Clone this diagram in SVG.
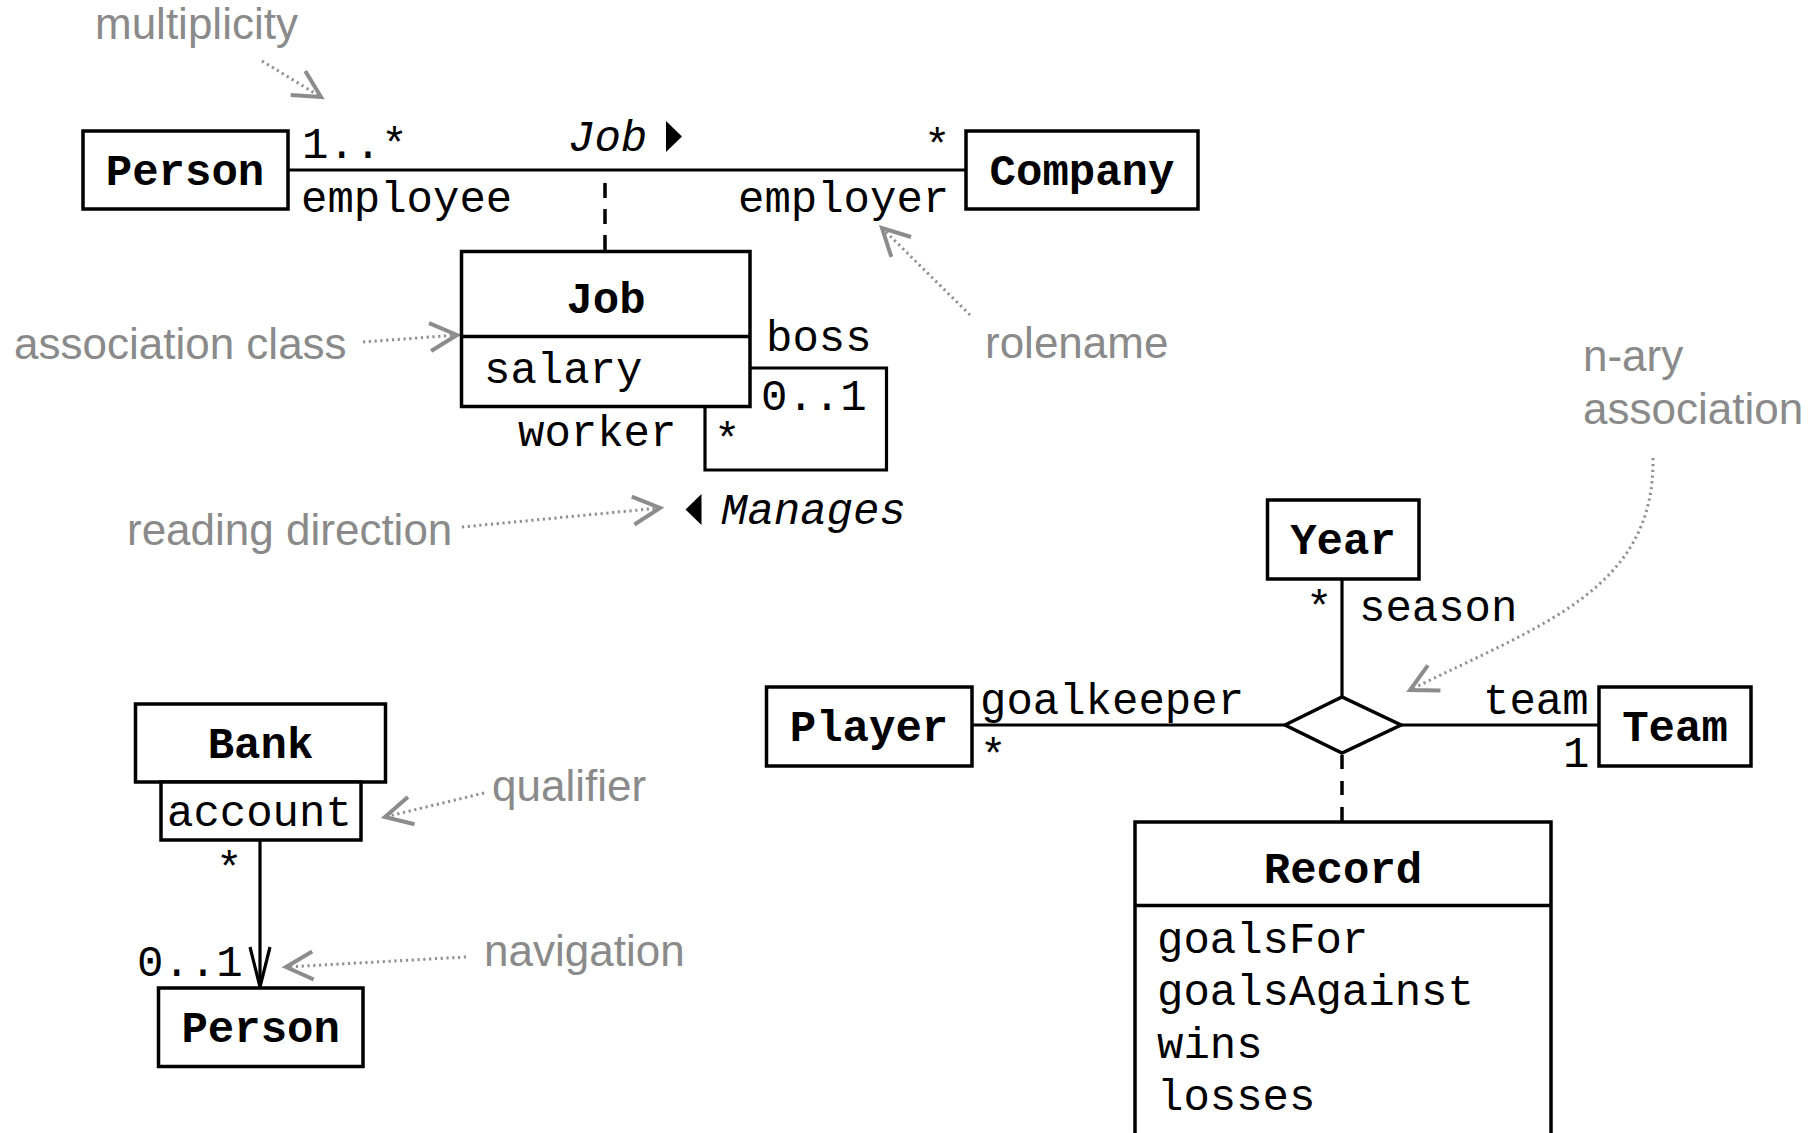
<svg xmlns="http://www.w3.org/2000/svg" width="1814" height="1133" viewBox="0 0 1814 1133">
<style>
.box{fill:#fff;stroke:#000;stroke-width:3.5}
.ln{stroke:#000;stroke-width:3.2;fill:none}
.dash{stroke:#000;stroke-width:3.5;fill:none;stroke-dasharray:15 11}
.mono{font-family:"Liberation Mono","Courier New",monospace;font-size:44px;fill:#000}
.b{font-weight:bold}
.it{font-style:italic}
.mid{text-anchor:middle}
.note{font-family:"Liberation Sans",Arial,sans-serif;font-size:44px;fill:#8a8a8a}
.dot{stroke:#8f8f8f;stroke-width:3;stroke-dasharray:2.2 3.6;fill:none;marker-end:url(#chev)}
</style>
<defs>
<marker id="chev" markerUnits="userSpaceOnUse" markerWidth="44" markerHeight="44" viewBox="-34 -22 44 44" refX="0" refY="0" orient="auto" overflow="visible">
<path d="M-27,-14 L0,0 L-27,14" fill="none" stroke="#8c8c8c" stroke-width="4"/>
</marker>
</defs>
<rect width="1814" height="1133" fill="#fff"/>

<g id="connectors">
<path class="ln" d="M288,170 H966"/>
<path class="dash" d="M605,183 V252"/>
<path class="ln" d="M750,368 H886.5 V470 H705 V406"/>
<path class="ln" d="M260,840 V986"/>
<path class="ln" d="M250,947 L260,987 L270,947" stroke-linejoin="miter"/>
<path class="ln" d="M972,725 H1285"/>
<path class="ln" d="M1401,725 H1599"/>
<path class="ln" d="M1342,579 V697"/>
<path class="dash" d="M1342,755 V822" style="stroke-dasharray:14 12"/>
<polygon points="666,121 666,152 682,136.5" fill="#000"/>
<polygon points="701.5,494 701.5,525 685.5,509.5" fill="#000"/>
<text class="mono" x="302" y="157.5">1..*</text>
<text class="mono" x="301" y="211.5">employee</text>
<text class="mono" x="924" y="159">*</text>
<text class="mono" x="738" y="211.5">employer</text>
<text class="mono it" x="568" y="150.5">Job</text>
<text class="mono" x="766" y="350.5">boss</text>
<text class="mono" x="761" y="409.5">0..1</text>
<text class="mono" x="714" y="453">*</text>
<text class="mono" x="518" y="445.5">worker</text>
<text class="mono it" x="721" y="523.5">Manages</text>
<text class="mono" x="216" y="882">*</text>
<text class="mono" x="137" y="975.5">0..1</text>
<text class="mono" x="980" y="713.5">goalkeeper</text>
<text class="mono" x="980" y="769">*</text>
<text class="mono" x="1483" y="713.5">team</text>
<text class="mono" x="1563" y="766.5">1</text>
<text class="mono" x="1306" y="621">*</text>
<text class="mono" x="1359" y="620.5">season</text>
</g>

<g id="annotations">
<text class="note" x="95" y="39">multiplicity</text>
<path class="dot" d="M262,61 L321,97"/>
<text class="note" x="14" y="359">association class</text>
<path class="dot" d="M363,342 L457,335"/>
<text class="note" x="985" y="358">rolename</text>
<path class="dot" d="M970,315 L882,228"/>
<text class="note" x="127" y="545">reading direction</text>
<path class="dot" d="M462,527 L660,508"/>
<text class="note" x="1583" y="371">n-ary</text>
<text class="note" x="1583" y="424">association</text>
<path class="dot" d="M1653,458 C1655,590 1540,625 1410,690"/>
<text class="note" x="492" y="801">qualifier</text>
<path class="dot" d="M484,793 L385,817"/>
<text class="note" x="484" y="966">navigation</text>
<path class="dot" d="M466,957 L286,967"/>
</g>

<g id="node-person">
<rect class="box" x="83" y="131" width="205" height="78"/>
<text class="mono b mid" x="185" y="185">Person</text>
</g>
<g id="node-company">
<rect class="box" x="966" y="131" width="232" height="78"/>
<text class="mono b mid" x="1082" y="185">Company</text>
</g>
<g id="node-job">
<rect class="box" x="461.5" y="251.5" width="288.5" height="155"/>
<line class="ln" x1="461.5" y1="336.5" x2="750" y2="336.5" style="stroke-width:3.5"/>
<text class="mono b mid" x="606" y="312.5">Job</text>
<text class="mono" x="484" y="382.5">salary</text>
</g>
<g id="node-bank">
<rect class="box" x="135.5" y="704" width="250" height="78"/>
<text class="mono b mid" x="260.5" y="757.5">Bank</text>
<rect class="box" x="161" y="782" width="200" height="58"/>
<text class="mono" x="167" y="825.5">account</text>
</g>
<g id="node-person2">
<rect class="box" x="158.5" y="988" width="204.5" height="78.5"/>
<text class="mono b mid" x="260.7" y="1041.5">Person</text>
</g>
<g id="node-year">
<rect class="box" x="1267.5" y="500" width="151.5" height="79"/>
<text class="mono b mid" x="1343" y="553.5">Year</text>
</g>
<g id="node-player">
<rect class="box" x="766.5" y="687" width="205.5" height="79"/>
<text class="mono b mid" x="869" y="740.5">Player</text>
</g>
<g id="node-team">
<rect class="box" x="1599" y="687" width="152" height="79"/>
<text class="mono b mid" x="1675" y="740.5">Team</text>
</g>
<g id="node-assoc">
<polygon class="box" points="1285,725 1342,697 1401,725 1342,753"/>
</g>
<g id="node-record">
<rect class="box" x="1135" y="822" width="416" height="340"/>
<line class="ln" x1="1135" y1="905.5" x2="1551" y2="905.5" style="stroke-width:3.5"/>
<text class="mono b mid" x="1343" y="882.5">Record</text>
<text class="mono" x="1157" y="952.5">goalsFor</text>
<text class="mono" x="1157" y="1004.5">goalsAgainst</text>
<text class="mono" x="1157" y="1057.5">wins</text>
<text class="mono" x="1157" y="1109.5">losses</text>
</g>
</svg>
